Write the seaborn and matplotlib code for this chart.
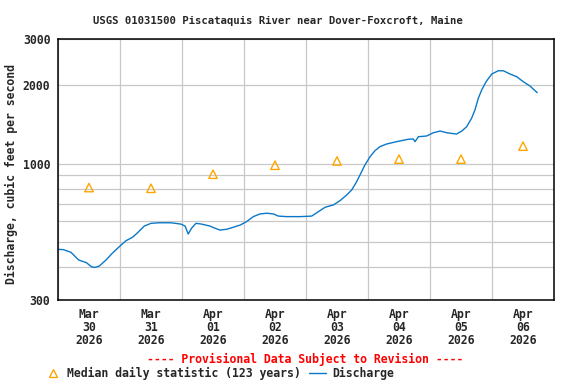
import pandas as pd
import seaborn as sns
import matplotlib.pyplot as plt
import matplotlib.dates as mdates
from matplotlib.ticker import FixedLocator, NullFormatter, FixedFormatter
from matplotlib.lines import Line2D

# Discharge readings, hours after 2026-03-30 00:00 and cubic feet per second
hours = [0, 2, 5, 8, 11, 13, 14.4, 16, 18.6, 21, 24.4, 26.3, 28.9, 30.8, 33.4, 36,
         39.2, 43.7, 47.6, 49.2, 50.4, 51.7, 53.4, 55.6, 58.8, 60.8, 62.7, 65.3,
         67.9, 70.5, 73, 75.6, 78.2, 80.8, 83.4, 85.3, 88.5, 93.7, 96.9, 98.2,
         100.2, 103.4, 106.6, 109.2, 111.7, 113.7, 115.6, 116.9, 118.8, 120.8,
         122.7, 124.6, 127.2, 131.1, 135.6, 137.5, 138.2, 139.5, 142.7, 145.3,
         147.9, 150.5, 154.3, 156.3, 158.2, 160.1, 161.4, 162.7, 164, 165.7,
         167.9, 170.4, 172.4, 175, 177.6, 180.1, 182.7, 185.5]
discharge = [469, 468, 457, 427, 417, 402, 400, 405, 427, 453, 487, 506, 522, 543,
             576, 590, 593, 593, 586, 576, 537, 565, 590, 586, 576, 565, 556, 560,
             570, 581, 599, 626, 641, 645, 641, 629, 626, 626, 628, 629, 648, 680,
             694, 721, 757, 792, 852, 904, 987, 1062, 1120, 1160, 1188, 1213, 1239,
             1242, 1213, 1267, 1275, 1312, 1332, 1312, 1297, 1332, 1384, 1491, 1604,
             1778, 1913, 2058, 2202, 2267, 2267, 2202, 2151, 2058, 1982, 1868]

# Median daily statistic (123 years), one value per day at noon
median_days = ["2026-03-30", "2026-03-31", "2026-04-01", "2026-04-02",
               "2026-04-03", "2026-04-04", "2026-04-05", "2026-04-06"]
median_cfs = [809, 804, 910, 985, 1023, 1040, 1040, 1166]

y_ticks = [300, 1000, 2000, 3000]
y_minor = [400, 500, 600, 700, 800, 900]

start = pd.Timestamp("2026-03-30")
flow = pd.DataFrame({"time": start + pd.to_timedelta(hours, unit="h"),
                     "cfs": discharge})
med = pd.DataFrame({"time": pd.to_datetime(median_days) + pd.Timedelta(hours=12),
                    "cfs": median_cfs})

sns.set_style("white")
plt.rcParams["font.family"] = ["DejaVu Sans Mono"]
plt.rcParams["font.weight"] = "bold"

blue = "#0a78c8"
orange = "#ffa500"

fig = plt.figure(figsize=(5.76, 3.84), dpi=100)
ax = fig.add_axes([58 / 576, 1 - 300 / 384, 496 / 576, 261 / 384])

sns.lineplot(data=flow, x="time", y="cfs", ax=ax, color=blue, linewidth=1.0)
sns.scatterplot(data=med, x="time", y="cfs", ax=ax, marker="^", s=37,
                facecolor="none", edgecolor=orange, linewidth=1.0, zorder=3)

ax.set_yscale("log")
ax.set_ylim(300, 3000)
ax.yaxis.set_major_locator(FixedLocator(y_ticks))
ax.yaxis.set_major_formatter(FixedFormatter([str(v) for v in y_ticks]))
ax.yaxis.set_minor_locator(FixedLocator(y_minor))
ax.yaxis.set_minor_formatter(NullFormatter())

ax.set_xlim(start, start + pd.Timedelta(days=8))
ax.xaxis.set_major_locator(mdates.HourLocator(byhour=[12]))
ax.xaxis.set_major_formatter(mdates.DateFormatter("%b\n%d\n%Y"))
ax.xaxis.set_minor_locator(mdates.DayLocator())

ax.grid(False)
ax.grid(True, which="minor", axis="both", color="#c8c8c8", linewidth=0.9)
ax.grid(True, which="major", axis="y", color="#c8c8c8", linewidth=0.9)
ax.set_axisbelow(True)

ax.tick_params(which="both", length=0)
ax.tick_params(axis="x", pad=6, labelsize=8.3)
ax.tick_params(axis="y", pad=5.5, labelsize=8.3)
for lab in ax.get_xticklabels():
    lab.set_linespacing(1.0)
for sp in ax.spines.values():
    sp.set_color("black")
    sp.set_linewidth(1.1)

ax.set_xlabel("")
ax.set_ylabel("Discharge, cubic feet per second", fontsize=8.3,
              fontweight="bold")
ax.yaxis.set_label_coords(-(58 - 18) / 496, 0.5 - 5 / 261)

fig.text(277.5 / 576, 1 - 20.5 / 384,
         "USGS 01031500 Piscataquis River near Dover-Foxcroft, Maine",
         ha="center", va="center", fontsize=7.7, fontweight="bold")
fig.text(305.5 / 576, 1 - 359 / 384,
         "---- Provisional Data Subject to Revision ----",
         ha="center", va="center", fontsize=8.3, fontweight="bold", color="red")

handles = [Line2D([], [], marker="^", markersize=6.1, markerfacecolor="none",
                  markeredgecolor=orange, linewidth=0),
           Line2D([], [], color=blue, linewidth=1.0)]
fig.legend(handles, ["Median daily statistic (123 years)", "Discharge"],
           loc="center left", bbox_to_anchor=(44 / 576, 1 - 373 / 384),
           ncol=2, frameon=False, borderpad=0, borderaxespad=0,
           handlelength=1.5, handletextpad=0.5, columnspacing=0.7,
           prop={"size": 8.3, "weight": "bold"})

fig.savefig("out.png", dpi=100)
